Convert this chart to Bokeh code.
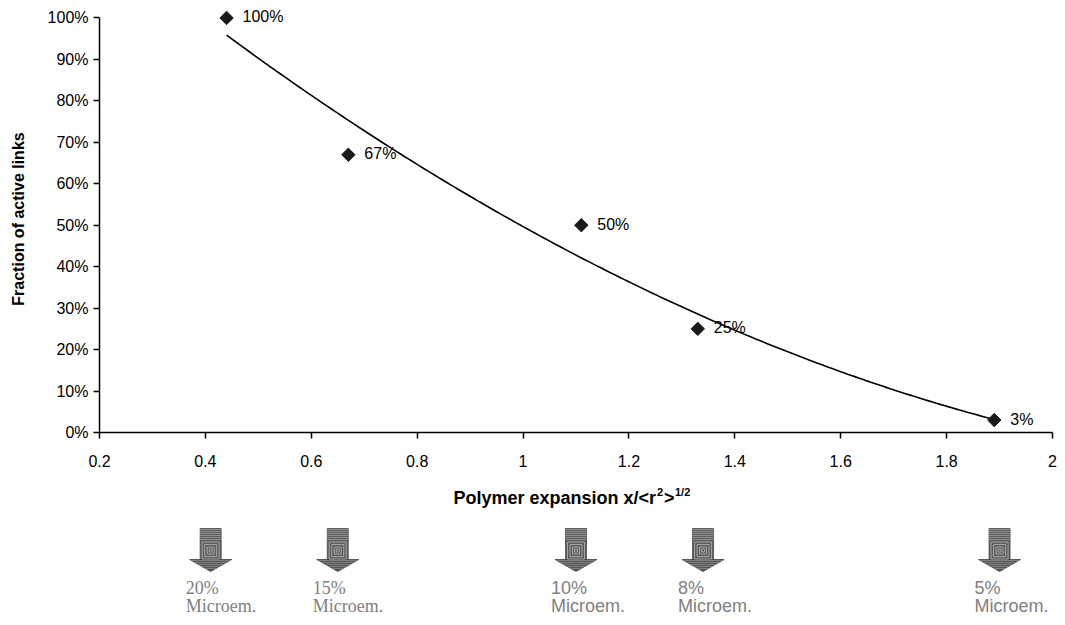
import numpy as np
from bokeh.plotting import figure
from bokeh.layouts import column
from bokeh.models import Range1d, FixedTicker, NumeralTickFormatter, ColumnDataSource
from bokeh.core.properties import value
from bokeh.embed import file_html
from bokeh.resources import INLINE

# ---------------- data ----------------
expansion = [0.44, 0.67, 1.11, 1.33, 1.89]
active_fraction = [1.00, 0.67, 0.50, 0.25, 0.03]
point_labels = ["100%", "67%", "50%", "25%", "3%"]

x_ticks = [0.2, 0.4, 0.6, 0.8, 1.0, 1.2, 1.4, 1.6, 1.8, 2.0]
y_ticks = [0.0, 0.1, 0.2, 0.3, 0.4, 0.5, 0.6, 0.7, 0.8, 0.9, 1.0]

micro_x = [0.41, 0.65, 1.10, 1.34, 1.90]
micro_pct = ["20%", "15%", "10%", "8%", "5%"]
micro_name = ["Microem."] * 5
micro_font = ["Liberation Serif", "Liberation Serif", "Liberation Sans", "Liberation Sans", "Liberation Sans"]

y_title = "Fraction of active links"
x_title_main = "Polymer expansion x/<r"
x_title_sup1 = "2"
x_title_mid = ">"
x_title_sup2 = "1/2"

# ---------------- layout constants ----------------
W = 1057
LEFT = 99
FRAME_W = 953
RIGHT = W - LEFT - FRAME_W
TOP = 5
FRAME_H = 427
BOTTOM = 42
H_MAIN = TOP + FRAME_H + BOTTOM
H_BOT = 617 - H_MAIN
FONT = "Liberation Sans"
PX = (2.0 - 0.2) / FRAME_W          # data units per pixel (x)

# quadratic trend line (polynomial fit of the data, as in the source chart)
coef = np.polyfit(expansion, active_fraction, 2)
trend_x = np.linspace(min(expansion), max(expansion), 200)
trend_y = np.polyval(coef, trend_x)

# ---------------- main chart ----------------
p = figure(width=W, height=H_MAIN,
           x_range=Range1d(0.2, 2.0), y_range=Range1d(0.0, 1.03),
           output_backend="svg", toolbar_location=None,
           min_border_left=LEFT, min_border_right=RIGHT,
           min_border_top=TOP, min_border_bottom=BOTTOM)
p.outline_line_color = None
p.grid.visible = False
p.background_fill_color = "white"
p.border_fill_color = "white"

for ax in (p.xaxis, p.yaxis):
    ax.axis_line_color = "black"
    ax.axis_line_width = 1.5
    ax.major_tick_line_color = "black"
    ax.major_tick_line_width = 1.5
    ax.major_tick_out = 6
    ax.major_tick_in = 0
    ax.minor_tick_line_color = None
    ax.major_label_text_font = FONT
    ax.major_label_text_font_size = "16px"
    ax.major_label_text_color = "black"

p.xaxis.ticker = FixedTicker(ticks=x_ticks)
p.xaxis.formatter = NumeralTickFormatter(format="0.[0]")
p.xaxis.major_label_standoff = 16

p.yaxis.ticker = FixedTicker(ticks=y_ticks)
p.yaxis.formatter = NumeralTickFormatter(format="0%")
p.yaxis.bounds = (0, 1)
p.yaxis.major_label_standoff = 5
p.yaxis.axis_label = y_title
p.yaxis.axis_label_text_font = FONT
p.yaxis.axis_label_text_font_style = "bold"
p.yaxis.axis_label_text_font_size = "16px"
p.yaxis.axis_label_text_color = "black"
p.yaxis.axis_label_standoff = 18

p.line(trend_x, trend_y, line_color="black", line_width=1.6)

src = ColumnDataSource(dict(x=expansion, y=active_fraction, label=point_labels))
p.scatter("x", "y", source=src, marker="square", angle=np.pi / 4, size=9.5,
          fill_color="#1a1a1a", line_color="#1a1a1a")
p.text("x", "y", text="label", source=src, x_offset=16, y_offset=-1,
       text_baseline="middle", text_align="left",
       text_font=value(FONT), text_font_size="16px", text_color="black")

# ---------------- bottom band: axis title + microemulsion arrows ----------------
b = figure(width=W, height=H_BOT, x_range=p.x_range, y_range=Range1d(H_BOT, 0),
           x_axis_type=None, y_axis_type=None,
           output_backend="svg", toolbar_location=None,
           min_border_left=LEFT, min_border_right=RIGHT,
           min_border_top=0, min_border_bottom=0)
b.outline_line_color = None
b.grid.visible = False
b.background_fill_color = "white"
b.border_fill_color = "white"

# x-axis title with superscripts
tx = 0.2 + (569.5 - LEFT) * PX
title_y, sup_y = 23, 17
b.text([tx], [title_y], text=[x_title_main], x_offset=86, text_align="right",
       text_baseline="middle", text_font=value(FONT), text_font_style="bold",
       text_font_size="18px", text_color="black")
b.text([tx], [sup_y], text=[x_title_sup1], x_offset=87, text_align="left",
       text_baseline="middle", text_font=value(FONT), text_font_style="bold",
       text_font_size="11px", text_color="black")
b.text([tx], [title_y], text=[x_title_mid], x_offset=94, text_align="left",
       text_baseline="middle", text_font=value(FONT), text_font_style="bold",
       text_font_size="18px", text_color="black")
b.text([tx], [sup_y], text=[x_title_sup2], x_offset=105, text_align="left",
       text_baseline="middle", text_font=value(FONT), text_font_style="bold",
       text_font_size="11px", text_color="black")

# arrows
SHAFT_TOP, SHAFT_BOT, TIP = 54, 85, 97
SHAFT_HW, HEAD_HW = 10.5, 21
shaft_xs, shaft_ys, head_xs, head_ys = [], [], [], []
stripe_xs, stripe_ys, sq_xs, sq_ys, hstripe_xs, hstripe_ys = [], [], [], [], [], []
for cx in micro_x:
    l, r = cx - SHAFT_HW * PX, cx + SHAFT_HW * PX
    shaft_xs.append([l, r, r, l])
    shaft_ys.append([SHAFT_TOP, SHAFT_TOP, SHAFT_BOT, SHAFT_BOT])
    head_xs.append([cx - HEAD_HW * PX, cx + HEAD_HW * PX, cx])
    head_ys.append([SHAFT_BOT, SHAFT_BOT, TIP])
    for yy in range(SHAFT_TOP + 1, SHAFT_TOP + 13, 2):
        stripe_xs.append([l, r])
        stripe_ys.append([yy, yy])
    cy = (SHAFT_TOP + 13 + SHAFT_BOT) / 2
    for hs in (8.5, 6.0, 3.5, 1.5):
        sq_xs.append([cx - hs * PX, cx + hs * PX, cx + hs * PX, cx - hs * PX, cx - hs * PX])
        sq_ys.append([cy - hs, cy - hs, cy + hs, cy + hs, cy - hs])
    for yy in range(SHAFT_BOT + 1, TIP - 1, 2):
        frac = (TIP - yy) / (TIP - SHAFT_BOT)
        hw = HEAD_HW * frac
        hstripe_xs.append([cx - hw * PX, cx + hw * PX])
        hstripe_ys.append([yy, yy])

b.patches(shaft_xs, shaft_ys, fill_color="#5e5e5e", line_color="#4a4a4a", line_width=0.8)
b.patches(head_xs, head_ys, fill_color="#555555", line_color="#444444", line_width=0.8)
b.multi_line(stripe_xs, stripe_ys, line_color="#9a9a9a", line_width=0.8)
b.multi_line(sq_xs, sq_ys, line_color="#b5b5b5", line_width=0.8)
b.multi_line(hstripe_xs, hstripe_ys, line_color="#8c8c8c", line_width=0.8)

msrc = ColumnDataSource(dict(x=micro_x, pct=micro_pct, name=micro_name, font=micro_font,
                             y1=[113] * 5, y2=[131] * 5))
b.text("x", "y1", text="pct", source=msrc, x_offset=-25, text_align="left",
       text_baseline="middle", text_font="font", text_font_size="18px",
       text_color="#808080")
b.text("x", "y2", text="name", source=msrc, x_offset=-25, text_align="left",
       text_baseline="middle", text_font="font", text_font_size="18px",
       text_color="#808080")

layout = column(p, b, spacing=0)
open("out.html", "w").write(file_html(layout, INLINE))
